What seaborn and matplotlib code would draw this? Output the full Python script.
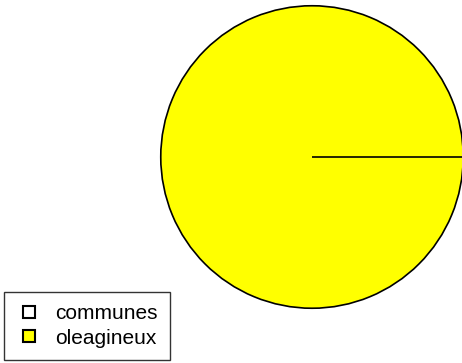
import matplotlib
matplotlib.use("Agg")
import matplotlib.pyplot as plt
import seaborn as sns
from matplotlib.lines import Line2D

categories = ["communes", "oleagineux"]
values = [0, 1]
colors = ["#FFFFFF", "#FFFF00"]

sns.set_theme(style="white")
plt.rcParams['font.family'] = ['Liberation Sans', 'DejaVu Sans']
plt.rcParams['text.color'] = 'black'

fig = plt.figure(figsize=(4.62, 3.63), dpi=100)
ax = fig.add_axes([160/462, 54/363, 304/462, 304/363])
wedges, _ = ax.pie(values, colors=colors, startangle=0, counterclock=True,
                   wedgeprops=dict(edgecolor="black", linewidth=1.2))
wedges[0].set_zorder(5)
ax.set_xlim(-1.005, 1.005)
ax.set_ylim(-1.005, 1.005)
ax.set_aspect("equal")
ax.axis("off")

handles = [Line2D([], [], linestyle="none", marker="s", markersize=9,
                  markerfacecolor=c, markeredgecolor="black", markeredgewidth=1.5)
           for c in colors]
leg = fig.legend(handles, categories, loc="lower left",
                 bbox_to_anchor=(4/462, 3/363), frameon=True, fancybox=False,
                 fontsize=15, handlelength=1.2, handleheight=0.7,
                 handletextpad=0.67, borderpad=0.6, labelspacing=0.26,
                 borderaxespad=0, labelcolor="black")
leg.get_frame().set_edgecolor("black")
leg.get_frame().set_linewidth(1.0)

fig.savefig("out.png", dpi=100, facecolor="white")
